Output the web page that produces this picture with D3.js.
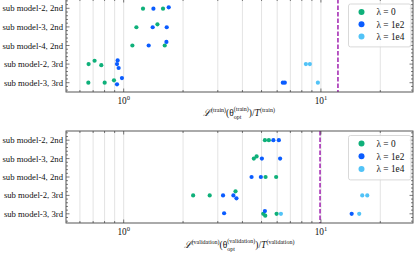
<!DOCTYPE html>
<html>
<head>
<meta charset="utf-8">
<script src="https://cdn.jsdelivr.net/npm/d3@7"></script>
<style>
  body { margin: 0; background: #fff; }
  text { font-family: "Liberation Serif", "DejaVu Serif", serif; fill: #111; }
</style>
</head>
<body>
<div id="chart"></div>
<script>
// categories (top to bottom)
const rows = ["sub model-2, 2nd", "sub model-3, 2nd", "sub model-4, 2nd", "sub model-2, 3rd", "sub model-3, 3rd"];
const lambdas = ["λ = 0", "λ = 1e2", "λ = 1e4"];
const colors = ["#0fb07a", "#0a5cff", "#52c3f7"];

// [row index, value, vertical jitter in row units]
const trainL0 = [[0,1.253,0.02],[0,1.583,0.02],[1,1.160,0.02],[1,1.483,-0.14],[2,1.107,0],[2,1.615,0],
                 [3,0.664,0],[3,0.712,-0.18],[3,0.770,0.06],[4,0.662,0],[4,0.801,0],[4,0.893,-0.13]];
const trainL2 = [[0,1.415,0.02],[0,1.692,-0.05],[1,1.403,0.02],[1,1.653,0.02],[2,1.339,0],[2,1.647,-0.19],
                 [3,0.932,-0.2],[3,0.925,0],[3,0.943,0.21],[4,0.980,-0.25],[4,0.925,0.09],[4,6.41,0],[4,6.56,0]];
const trainL4 = [[3,8.39,0],[3,8.79,0],[4,9.65,0]];

const valL0 = [[0,5.20,0],[0,5.445,0],[1,4.57,0],[1,4.72,-0.12],[2,5.24,0],[2,5.93,0],
               [3,2.25,0],[3,2.73,0],[3,3.69,-0.22],[4,5.10,0],[4,5.22,0.1],[4,5.96,0]];
const valL2 = [[0,5.74,0],[0,6.12,0],[1,5.02,0],[1,6.21,0],[2,4.45,0],[2,4.96,0],
               [3,3.19,0],[3,3.60,0],[3,3.73,0.16],[4,3.23,-0.03],[4,5.20,-0.15],[4,14.32,0]];
const valL4 = [[3,16.2,0],[3,17.18,0],[4,6.27,0],[4,15.64,0]];

const thresholds = [12.2, 9.9];
const majorTicks = [1, 10];
const minorTicks = [0.6, 0.7, 0.8, 0.9, 2, 3, 4, 5, 6, 7, 8, 9, 20];

const W = 415, H = 253;
const svg = d3.select("#chart").append("svg").attr("width", W).attr("height", H);

const x = d3.scaleLog().domain([0.51, 29.3]).range([66, 413]);

function panel(top, bottom, series, thr, word, labelY, legendTop, legendStep) {
  const y = d3.scaleLinear().domain([-0.5, 4.5]).range([top, bottom]);
  const g = svg.append("g");

  // grid
  g.selectAll(".grid").data(majorTicks.concat(minorTicks)).enter().append("line")
    .attr("x1", d => x(d)).attr("x2", d => x(d))
    .attr("y1", top).attr("y2", bottom)
    .attr("stroke", "#dcdcdc").attr("stroke-width", 0.8);

  // threshold
  g.append("line")
    .attr("x1", x(thr)).attr("x2", x(thr)).attr("y1", top).attr("y2", bottom)
    .attr("stroke", "#a62fb5").attr("stroke-width", 1.6).attr("stroke-dasharray", "4.5,2");

  // points
  series.forEach((s, k) => {
    g.selectAll(".p" + k).data(s).enter().append("circle")
      .attr("cx", d => x(d[1]))
      .attr("cy", d => y(d[0] + d[2]))
      .attr("r", 2.1)
      .attr("fill", colors[k]);
  });

  // ticks inward on all sides
  const tk = g.append("g").attr("stroke", "#444").attr("stroke-width", 0.7);
  [[majorTicks, 3.5], [minorTicks, 2]].forEach(([arr, len]) => {
    arr.forEach(v => {
      tk.append("line").attr("x1", x(v)).attr("x2", x(v)).attr("y1", bottom).attr("y2", bottom - len);
      tk.append("line").attr("x1", x(v)).attr("x2", x(v)).attr("y1", top).attr("y2", top + len);
    });
  });
  const yMinor = d3.range(-0.4, 4.45, 0.2).filter(v => Math.abs(v - Math.round(v)) > 0.01);
  [[d3.range(0, 5), 3.5], [yMinor, 2]].forEach(([arr, len]) => {
    arr.forEach(v => {
      tk.append("line").attr("x1", 66).attr("x2", 66 + len).attr("y1", y(v)).attr("y2", y(v));
      tk.append("line").attr("x1", 413).attr("x2", 413 - len).attr("y1", y(v)).attr("y2", y(v));
    });
  });

  // frame
  g.append("rect").attr("x", 66).attr("y", top).attr("width", 413 - 66).attr("height", bottom - top)
    .attr("fill", "none").attr("stroke", "#444").attr("stroke-width", 0.9);

  // y labels
  g.selectAll(".yl").data(rows).enter().append("text")
    .attr("x", 63).attr("y", (d, i) => y(i)).attr("dy", "0.35em")
    .attr("text-anchor", "end").attr("font-size", 8.7).text(d => d);

  // x tick labels
  majorTicks.forEach((v, i) => {
    const t = g.append("text").attr("x", x(v)).attr("y", bottom + 11.5)
      .attr("text-anchor", "middle").attr("font-size", 9.3);
    t.append("tspan").text("10");
    t.append("tspan").attr("dy", -4).attr("font-size", 6.5).text(String(i));
  });

  // x label: L^(w)(theta^(w)_opt)/T^(w)
  const lab = g.append("text").attr("x", 239).attr("y", labelY).attr("text-anchor", "middle").attr("font-size", 9.5);
  const sup = "(" + word + ")";
  lab.append("tspan").attr("font-style", "italic").text("ℒ");
  lab.append("tspan").attr("dy", -4).attr("font-size", 6).text(sup);
  lab.append("tspan").attr("dy", 4).text("(θ");
  const s2 = lab.append("tspan").attr("dy", -5).attr("font-size", 6).text(sup);
  const o = lab.append("tspan").attr("dy", 8).attr("font-size", 6).text("opt");
  const close = lab.append("tspan").attr("dy", -3).text(")/");
  lab.append("tspan").attr("font-style", "italic").text("T");
  lab.append("tspan").attr("dy", -4).attr("font-size", 6).text(sup);
  const supLen = s2.node().getComputedTextLength();
  const optLen = o.node().getComputedTextLength();
  o.attr("dx", -supLen);
  close.attr("dx", supLen - optLen);

  // legend
  const lg = g.append("g");
  lg.append("rect").attr("x", 348.5).attr("y", legendTop).attr("width", 62.5).attr("height", legendStep * 3 + 6)
    .attr("rx", 2).attr("fill", "#fff").attr("fill-opacity", 0.85)
    .attr("stroke", "#cfcfcf").attr("stroke-width", 0.8);
  lambdas.forEach((l, k) => {
    const cy = legendTop + 8 + k * legendStep;
    lg.append("circle").attr("cx", 361.5).attr("cy", cy).attr("r", 3).attr("fill", colors[k]);
    lg.append("text").attr("x", 376.5).attr("y", cy).attr("dy", "0.35em").attr("font-size", 9.3).text(l);
  });
}

panel(-1, 92, [trainL0, trainL2, trainL4], thresholds[0], "train", 116, 4, 12.3);
panel(131, 223, [valL0, valL2, valL4], thresholds[1], "validation", 248, 135.5, 12.8);
</script>
</body>
</html>
